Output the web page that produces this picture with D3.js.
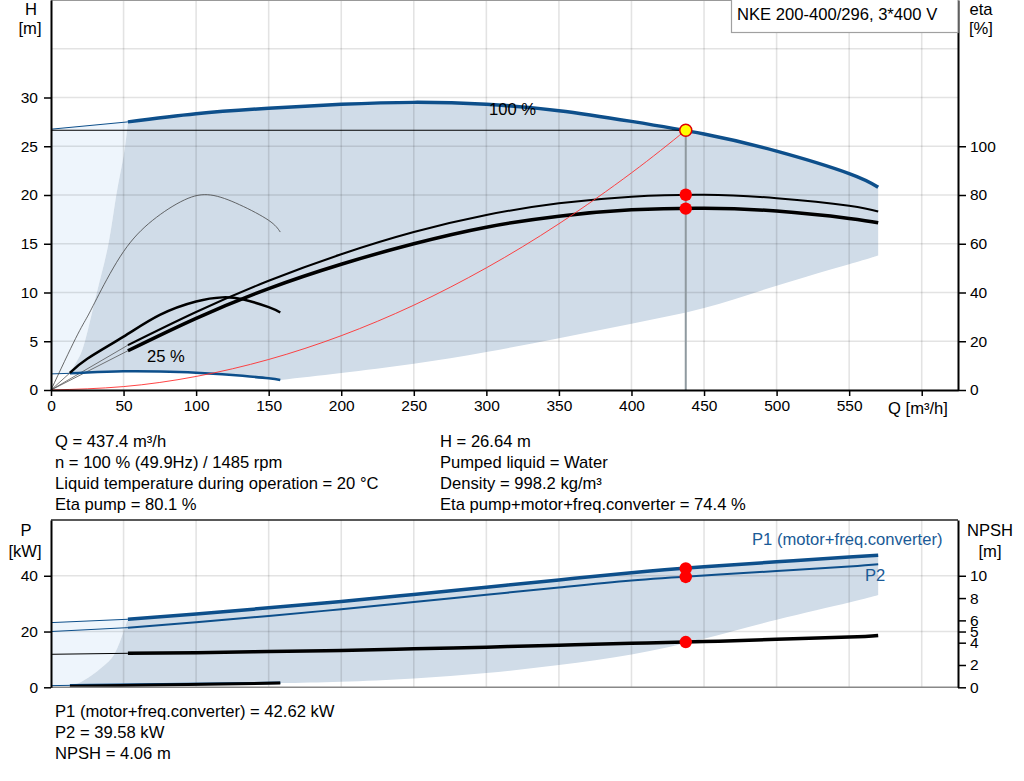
<!DOCTYPE html>
<html>
<head>
<meta charset="utf-8">
<script src="https://cdn.jsdelivr.net/npm/d3@7"></script>
<style>
  body { margin: 0; background: #fff; }
  svg { display: block; font-family: "Liberation Sans", Arial, sans-serif; }
</style>
</head>
<body>
<div id="chart"></div>
<script>
// ---- data ----
const qTicks = [0, 50, 100, 150, 200, 250, 300, 350, 400, 450, 500, 550, 600];
const hTicks = [0, 5, 10, 15, 20, 25, 30];
const hGrid = [5, 10, 15, 20, 25, 30, 35];
const etaTicks = [0, 20, 40, 60, 80, 100];
const pTicks = [0, 20, 40];
const pGrid = [20, 40];
const npshTicks = [0, 2, 4, 5, 6, 8, 10];

// operating point
const opQ = 437.4, opH = 26.64, opEtaPump = 80.1, opEtaTotal = 74.4;
const opP1 = 42.62, opP2 = 39.58, opNpsh = 4.06;

// 100 % speed curves
const curveQ = [53, 100, 150, 200, 250, 300, 350, 400, 450, 500, 550, 570];
const head100 = [27.5, 28.34, 28.9, 29.3, 29.5, 29.3, 28.65, 27.55, 26.25, 24.5, 22.2, 20.8];
const etaPump = [18.4, 32, 44.8, 55.7, 64.8, 71.8, 76.6, 79.3, 80.1, 78.7, 75.6, 73.2];
const etaTotal = [16.1, 29.4, 41.6, 51.6, 60, 66.8, 71.3, 73.9, 74.6, 73.4, 70.4, 68.6];
const p1 = [24.4, 26.3, 28.5, 30.8, 33.3, 35.9, 38.5, 41.1, 43.2, 45.0, 46.7, 47.4];
const p2 = [21.4, 23.3, 25.6, 28.0, 30.6, 33.2, 35.8, 38.3, 40.1, 41.7, 43.3, 44.1];
const npsh = [3.05, 3.1, 3.2, 3.3, 3.45, 3.6, 3.78, 3.95, 4.1, 4.3, 4.5, 4.65];

// thin extensions towards Q = 0
const extQ = [0, 53];
const head100Ext = [26.75, 27.5];
const etaPumpExt = [0, 18.4];
const etaTotalExt = [0, 16.1];
const p1Ext = [23.2, 24.4];
const p2Ext = [20.0, 21.4];
const npshExt = [2.96, 3.05];

// 25 % speed curves
const q25 = [13, 25, 50, 75, 100, 118, 132, 150, 158];
const head25 = [1.71, 1.8, 1.92, 1.9, 1.78, 1.62, 1.45, 1.2, 1.03];
const eta25 = [7, 12.8, 21.9, 30.8, 36.3, 38, 37.2, 34, 31.8];
const ext25Q = [0, 13];
const head25Ext = [1.65, 1.71];
const eta25Ext = [0, 7];
const p25Q = [13, 158];
const p1at25 = [0.7, 1.6];
const p2at25 = [0.4, 1.5];
const p25Ext = [0.6, 0.7];

// thin eta curve (left)
const thinQ = [0, 17, 25, 33, 50, 70, 92, 110, 130, 150, 158];
const thinEta = [0, 21.2, 30, 39.2, 56.8, 69.6, 78, 80, 76, 69.6, 64.8];

// system curve
const sysQ = [0, 50, 100, 150, 200, 250, 300, 350, 400, 437.4];
const sysH = [0, 0.35, 1.39, 3.13, 5.57, 8.70, 12.53, 17.05, 22.27, 26.64];

// operating range (upper)
const envLowQ = [570, 550, 500, 450, 400, 350, 300, 250, 200, 158];
const envLowH = [13.8, 12.9, 10.7, 8.4, 6.8, 5.3, 3.9, 2.7, 1.75, 1.03];
const envLeftQ = [13, 18, 23.4, 31.6, 39.6, 45, 50, 53];
const envLeftH = [1.71, 3, 5, 10, 15, 20, 24, 27.5];

// operating range (lower)
const lowEnvQ = [570, 550, 500, 450, 400, 350, 300, 250, 200, 158];
const lowEnvP = [33.1, 30.4, 24.2, 17.4, 11.8, 8.0, 5.1, 3.2, 2.0, 1.5];
const lowLeftQ = [13, 21, 30, 37, 44, 50, 53];
const lowLeftP = [0.4, 2, 5, 8, 12.2, 20, 24.4];

const titleText = "NKE 200-400/296, 3*400 V";
const infoLeft = ["Q = 437.4 m³/h", "n = 100 % (49.9Hz) / 1485 rpm",
  "Liquid temperature during operation = 20 °C", "Eta pump = 80.1 %"];
const infoRight = ["H = 26.64 m", "Pumped liquid = Water", "Density = 998.2 kg/m³",
  "Eta pump+motor+freq.converter = 74.4 %"];
const infoPower = ["P1 (motor+freq.converter) = 42.62 kW", "P2 = 39.58 kW", "NPSH = 4.06 m"];

// ---- layout ----
const W = 1024, H = 781;
const left = 51, right = 958;
const topY0 = 0, topY1 = 390;
const botY0 = 520, botY1 = 687.3;
const fs = 16.6;     // label text
const tickFs = 15.5; // tick labels

const blue = "#0d4f8b";
const fillDark = "#d0dce8";
const fillLight = "#eef5fc";

const svg = d3.select("#chart").append("svg")
  .attr("width", W).attr("height", H);

const x = d3.scaleLinear().domain([0, 625]).range([left, right]);
const yH = d3.scaleLinear().domain([0, 40]).range([topY1, topY0]);
const yEta = d3.scaleLinear().domain([0, 160]).range([topY1, topY0]);
const yP = d3.scaleLinear().domain([0, 60]).range([botY1, botY0]);
const yN = d3.scaleLinear().domain([0, 15]).range([botY1, botY0]);

const zip = (qs, vs) => qs.map((q, i) => [q, vs[i]]);

function pathOf(yScale, pts, curve) {
  return d3.line().x(d => x(d[0])).y(d => yScale(d[1])).curve(curve || d3.curveNatural)(pts);
}
// join several segments into one closed outline
function outline(segs) {
  return segs.map((s, i) => i === 0 ? s : s.replace(/^M/, "L")).join("") + "Z";
}
function drawCurve(g, yScale, qs, vs, color, width, curve) {
  g.append("path")
    .attr("d", pathOf(yScale, zip(qs, vs), curve))
    .attr("fill", "none").attr("stroke", color)
    .attr("stroke-width", width).attr("stroke-linejoin", "round");
}
const rev = a => a.slice().reverse();

function grid(g, yScale, vals, y0, y1) {
  g.append("g").selectAll("line").data(vals).join("line")
    .attr("x1", left).attr("x2", right)
    .attr("y1", d => yScale(d)).attr("y2", d => yScale(d))
    .attr("stroke", "#000").attr("stroke-opacity", 0.11).attr("stroke-width", 1.6);
  g.append("g").selectAll("line").data(qTicks.slice(1)).join("line")
    .attr("x1", d => x(d)).attr("x2", d => x(d))
    .attr("y1", y0).attr("y2", y1)
    .attr("stroke", "#000").attr("stroke-opacity", 0.11).attr("stroke-width", 1.6);
}

function styleAxis(g) {
  g.selectAll("text").attr("font-size", tickFs).attr("fill", "#000")
    .attr("font-family", "'Liberation Sans', Arial, sans-serif");
  g.selectAll("line").attr("stroke", "#000").attr("stroke-width", 1.5);
  g.select(".domain").attr("stroke", "#000").attr("stroke-width", 2);
}

function label(g, tx, ty, txt, anchor, color) {
  g.append("text").attr("x", tx).attr("y", ty)
    .attr("text-anchor", anchor || "start").attr("font-size", fs)
    .attr("fill", color || "#000").text(txt);
}

// ================= upper panel =================
const up = svg.append("g");

// light region left of the operating range
up.append("path")
  .attr("d", outline([
    pathOf(yH, zip(ext25Q, head25Ext), d3.curveLinear),
    pathOf(yH, zip(envLeftQ, envLeftH)),
    pathOf(yH, zip(rev(extQ), rev(head100Ext)), d3.curveLinear)
  ]))
  .attr("fill", fillLight);

// operating range
up.append("path")
  .attr("d", outline([
    pathOf(yH, zip(curveQ, head100)),
    pathOf(yH, zip(envLowQ, envLowH)),
    pathOf(yH, zip(rev(q25), rev(head25))),
    pathOf(yH, zip(envLeftQ, envLeftH))
  ]))
  .attr("fill", fillDark);

grid(up, yH, hGrid, topY0, topY1);

// thin extensions
drawCurve(up, yH, extQ, head100Ext, blue, 1, d3.curveLinear);
drawCurve(up, yEta, extQ, etaPumpExt, "#555", 0.8, d3.curveLinear);
drawCurve(up, yEta, extQ, etaTotalExt, "#555", 0.8, d3.curveLinear);
drawCurve(up, yH, ext25Q, head25Ext, blue, 1, d3.curveLinear);
drawCurve(up, yEta, ext25Q, eta25Ext, "#555", 0.8, d3.curveLinear);

// thin eta curve
drawCurve(up, yEta, thinQ, thinEta, "#444", 0.8);

// 25 % curves
drawCurve(up, yH, q25, head25, blue, 2.5);
drawCurve(up, yEta, q25, eta25, "#000", 2.5);

// 100 % curves
drawCurve(up, yEta, curveQ, etaPump, "#000", 2);
drawCurve(up, yEta, curveQ, etaTotal, "#000", 3.5);
drawCurve(up, yH, curveQ, head100, blue, 3.5);

// system curve
drawCurve(up, yH, sysQ, sysH, "#ff3030", 0.9);

// operating lines
up.append("line")
  .attr("x1", left).attr("x2", x(opQ)).attr("y1", yH(opH)).attr("y2", yH(opH))
  .attr("stroke", "#000").attr("stroke-width", 1);
up.append("line")
  .attr("x1", x(opQ)).attr("x2", x(opQ)).attr("y1", yH(opH)).attr("y2", topY1)
  .attr("stroke", "#8f999f").attr("stroke-width", 2);

// markers
up.selectAll("circle.eta").data([opEtaPump, opEtaTotal]).join("circle")
  .attr("cx", x(opQ)).attr("cy", d => yEta(d)).attr("r", 6.2).attr("fill", "#ff0000");
up.append("circle")
  .attr("cx", x(opQ)).attr("cy", yH(opH)).attr("r", 6)
  .attr("fill", "#ffff00").attr("stroke", "#e00000").attr("stroke-width", 1.5);

// labels on curves
label(up, 489, 115, "100 %");
label(up, 147, 362, "25 %");

// frame + axes
up.append("line").attr("x1", left).attr("x2", right).attr("y1", 0.5).attr("y2", 0.5)
  .attr("stroke", "#999").attr("stroke-width", 1);

up.append("g").attr("transform", `translate(${left},0)`)
  .call(d3.axisLeft(yH).tickValues(hTicks).tickSize(7).tickPadding(6).tickSizeOuter(0))
  .call(styleAxis);
up.append("g").attr("transform", `translate(${right},0)`)
  .call(d3.axisRight(yEta).tickValues(etaTicks).tickSize(8).tickPadding(4).tickSizeOuter(0))
  .call(styleAxis);
up.append("g").attr("transform", `translate(0,${topY1})`)
  .call(d3.axisBottom(x).tickValues(qTicks).tickSize(6).tickPadding(4).tickSizeOuter(0)
    .tickFormat(d => d === 600 ? "" : d))
  .call(styleAxis);

label(up, 31, 15, "H", "middle");
label(up, 30, 34, "[m]", "middle");
label(up, 981, 15, "eta", "middle");
label(up, 981, 34, "[%]", "middle");
label(up, 888, 414, "Q [m³/h]");

// title box
up.append("rect").attr("x", 731.5).attr("y", -1).attr("width", right - 731.5).attr("height", 33.5)
  .attr("fill", "#fff").attr("stroke", "#a0a0a0").attr("stroke-width", 1.2);
label(up, 737, 20, titleText);

// info block
const info = svg.append("g");
infoLeft.forEach((t, i) => label(info, 55, 447 + i * 21, t));
infoRight.forEach((t, i) => label(info, 440, 447 + i * 21, t));

// ================= lower panel =================
const lo = svg.append("g");

lo.append("path")
  .attr("d", outline([
    pathOf(yP, zip(ext25Q, p25Ext), d3.curveLinear),
    pathOf(yP, zip(lowLeftQ, lowLeftP)),
    pathOf(yP, zip(rev(extQ), rev(p1Ext)), d3.curveLinear)
  ]))
  .attr("fill", fillLight);

lo.append("path")
  .attr("d", outline([
    pathOf(yP, zip(curveQ, p1)),
    pathOf(yP, zip(lowEnvQ, lowEnvP)),
    pathOf(yP, zip(rev(p25Q), rev(p2at25)), d3.curveLinear),
    pathOf(yP, zip(lowLeftQ, lowLeftP))
  ]))
  .attr("fill", fillDark);

grid(lo, yP, pGrid, botY0, botY1);

drawCurve(lo, yP, extQ, p1Ext, blue, 1, d3.curveLinear);
drawCurve(lo, yP, extQ, p2Ext, blue, 1, d3.curveLinear);
drawCurve(lo, yN, extQ, npshExt, "#000", 1, d3.curveLinear);
drawCurve(lo, yP, ext25Q, p25Ext, blue, 1, d3.curveLinear);
drawCurve(lo, yP, p25Q, p1at25, blue, 2.5, d3.curveLinear);
drawCurve(lo, yP, p25Q, p2at25, "#000", 3, d3.curveLinear);

drawCurve(lo, yN, curveQ, npsh, "#000", 3.5);
drawCurve(lo, yP, curveQ, p2, blue, 2);
drawCurve(lo, yP, curveQ, p1, blue, 3.5);

lo.selectAll("circle.p").data([yP(opP1), yP(opP2), yN(opNpsh)]).join("circle")
  .attr("cx", x(opQ)).attr("cy", d => d).attr("r", 6.2).attr("fill", "#ff0000");

lo.append("line").attr("x1", left).attr("x2", right).attr("y1", botY0).attr("y2", botY0)
  .attr("stroke", "#222").attr("stroke-width", 1.5);
lo.append("line").attr("x1", left).attr("x2", right).attr("y1", botY1).attr("y2", botY1)
  .attr("stroke", "#888").attr("stroke-width", 1.5);

lo.append("g").attr("transform", `translate(${left},0)`)
  .call(d3.axisLeft(yP).tickValues(pTicks).tickSize(7).tickPadding(6).tickSizeOuter(0))
  .call(styleAxis);
lo.append("g").attr("transform", `translate(${right},0)`)
  .call(d3.axisRight(yN).tickValues(npshTicks).tickSize(8).tickPadding(4).tickSizeOuter(0))
  .call(styleAxis);

label(lo, 26, 536, "P", "middle");
label(lo, 25, 557, "[kW]", "middle");
label(lo, 990, 536, "NPSH", "middle");
label(lo, 990, 557, "[m]", "middle");
label(lo, 752, 545, "P1 (motor+freq.converter)", "start", "#1a5a96");
label(lo, 865, 581, "P2", "start", "#1a5a96");

const info2 = svg.append("g");
infoPower.forEach((t, i) => label(info2, 55, 717 + i * 21, t));
</script>
</body>
</html>
